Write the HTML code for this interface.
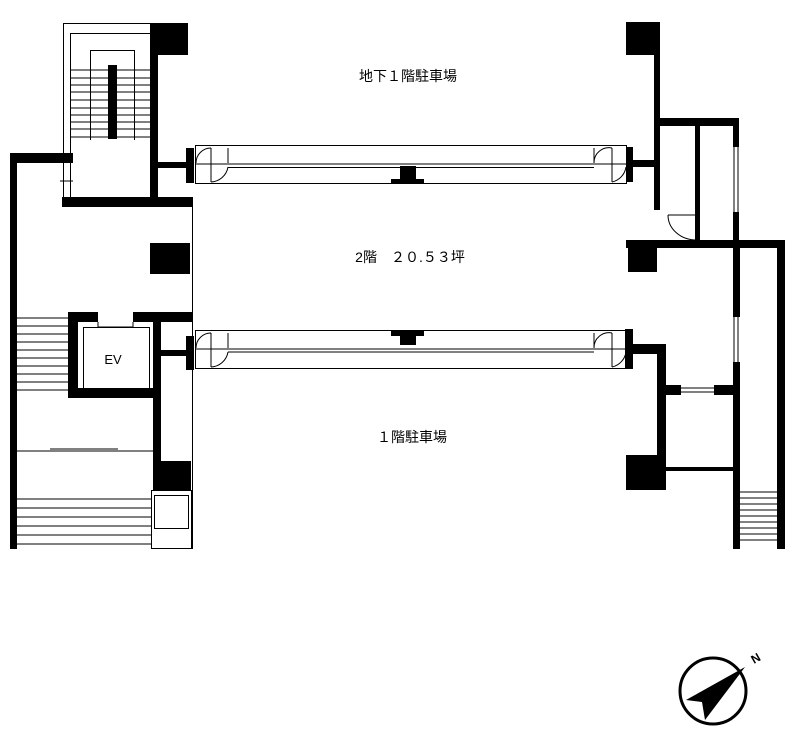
<!DOCTYPE html>
<html><head><meta charset="utf-8"><style>body{margin:0;background:#fff}svg{display:block}</style></head><body>
<svg width="800" height="741" viewBox="0 0 800 741" xmlns="http://www.w3.org/2000/svg" font-family="Liberation Sans, Noto Sans CJK JP, sans-serif">
<g fill="#000">
<!-- top-left stair -->
<rect x="150" y="23" width="38" height="32"/>
<rect x="150" y="23" width="8" height="180"/>
<rect x="62" y="197" width="131" height="10"/>
<rect x="10" y="153" width="63" height="10"/>
<rect x="10" y="153" width="7" height="396"/>
<rect x="108" y="65" width="9" height="74"/>
<rect x="158" y="162" width="32" height="6"/>
<rect x="186" y="148" width="8" height="35"/>
<rect x="150" y="243" width="40" height="31"/>
<!-- beams T -->
<rect x="400" y="166" width="16" height="14"/><rect x="391" y="179" width="33" height="5"/>
<rect x="391" y="330" width="33" height="6"/><rect x="400" y="335" width="16" height="10"/>
<!-- right top -->
<rect x="626" y="22" width="33" height="33"/>
<rect x="654" y="22" width="6" height="188"/>
<rect x="654" y="118" width="85" height="8"/>
<rect x="695" y="126" width="5" height="114"/>
<rect x="733" y="118" width="6" height="29"/>
<rect x="733" y="212" width="6" height="34"/>
<rect x="626" y="147" width="7" height="35"/>
<rect x="633" y="160" width="23" height="7"/>
<rect x="626" y="240" width="159" height="8"/>
<rect x="628" y="242" width="29" height="30"/>
<rect x="733" y="240" width="7" height="77"/>
<rect x="733" y="362" width="7" height="187"/>
<rect x="777" y="240" width="8" height="309"/>
<!-- right lower -->
<rect x="625" y="329" width="8" height="40"/>
<rect x="633" y="344" width="33" height="10"/>
<rect x="657" y="344" width="9" height="111"/>
<rect x="666" y="385" width="15" height="10"/>
<rect x="714" y="385" width="24" height="10"/>
<rect x="626" y="455" width="40" height="35"/>
<rect x="666" y="467" width="69" height="4"/>
<!-- left lower -->
<rect x="68" y="312" width="10" height="86"/>
<rect x="68" y="312" width="30" height="10"/>
<rect x="133" y="312" width="60" height="10"/>
<rect x="153" y="322" width="8" height="140"/>
<rect x="68" y="388" width="93" height="10"/>
<rect x="161" y="350" width="29" height="6"/>
<rect x="186" y="336" width="8" height="34"/>
<rect x="153" y="461" width="38" height="30"/>
</g>
<g fill="none" stroke="#000" stroke-width="1">
<rect x="63.5" y="23.5" width="87" height="174"/>
<rect x="70.5" y="33.5" width="80" height="164"/>
<path d="M90.5 140V50.5H134.5V140"/>
<path d="M70 70H150M70 78H150M70 85H150M70 92H150M70 100H150M70 108H150M70 115H150M70 122H150M70 129H150M70 137H150"/>
<path d="M60 181H73"/>
<path d="M192.5 207V336M192.5 370V549"/>
<!-- beams -->
<rect x="195.5" y="145.5" width="431" height="38"/>
<path d="M196 164H626M228 167.5H594"/>
<path d="M211 148v34M228 148v15M211 182a18 18 0 0 0 17 -15M211 148a15 15 0 0 0 -15 15"/>
<path d="M612 148v34M594 148v15M612 182a18 18 0 0 0 14 -15M612 148a15 15 0 0 0 -18 15"/>
<rect x="195.5" y="330.5" width="431" height="38"/>
<path d="M196 349H626M228 352H594"/>
<path d="M211 333v34M228 333v15M211 367a18 18 0 0 0 17 -15M211 333a15 15 0 0 0 -15 15"/>
<path d="M612 333v34M594 333v15M612 367a18 18 0 0 0 14 -15M612 333a15 15 0 0 0 -18 15"/>
<!-- right -->
<path d="M734 147V212M738 147V212M734 317V362M738 362V317M681 388H714M681 392H714"/>
<path d="M668 215a28 25 0 0 0 28 25M668 215H696"/>
<path d="M740 492H777M740 498H777M740 504H777M740 510H777M740 516H777M740 522H777M740 528H777M740 534H777M740 540H777"/>
<!-- left lower -->
<rect x="83.5" y="327.5" width="66" height="64"/>
<path d="M98 322v5H133v-5"/>
<path d="M17 318H68M17 326H68M17 334H68M17 342H68M17 350H68M17 358H68M17 366H68M17 374H68M17 382H68M17 390H68"/>
<path d="M17 451H153M50 449H118"/>
<rect x="151.5" y="490.5" width="40" height="58"/>
<rect x="154.5" y="495.5" width="34" height="33"/>
<path d="M17 499H151M17 508H151M17 517H151M17 526H151M17 535H151M17 544H151"/>
</g>
<g font-size="14" fill="#000">
<text x="408" y="81" text-anchor="middle">地下１階駐車場</text>
<text x="410" y="262" text-anchor="middle">2階　２０.５３坪</text>
<text x="412" y="442" text-anchor="middle">１階駐車場</text>
<text x="113" y="364" text-anchor="middle" font-size="13">EV</text>
</g>
<circle cx="713" cy="691" r="33" fill="none" stroke="#000" stroke-width="3"/>
<polygon points="745,667 686,700 702,702 705,720" fill="#000"/>
<text x="754" y="664" font-size="12" font-weight="bold" transform="rotate(-30 754 664)">N</text>
</svg>
</body></html>
